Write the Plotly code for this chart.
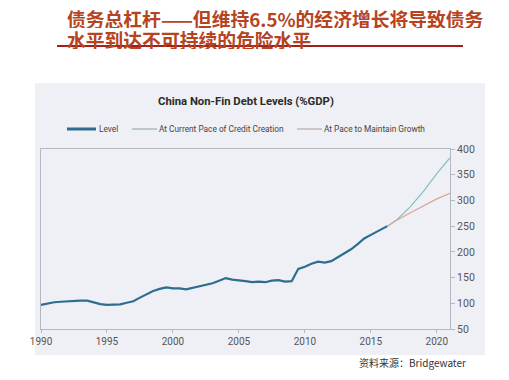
import plotly.graph_objects as go

# page body has an 8px margin; size the figure to fit inside the 509x380 window
PAGE_W, PAGE_H, BODY = 509, 380, 8
W, H = PAGE_W - 2 * BODY, PAGE_H - 2 * BODY

# ---- data ----
level_years = [1990.0, 1990.5, 1991.0, 1991.5, 1992.0, 1992.5, 1993.0, 1993.5, 1994.0, 1994.5,
               1995.0, 1995.5, 1996.0, 1996.5, 1997.0, 1997.5, 1998.0, 1998.5, 1999.0, 1999.5,
               2000.0, 2000.5, 2001.0, 2001.5, 2002.0, 2002.5, 2003.0, 2003.5, 2004.0, 2004.5,
               2005.0, 2005.5, 2006.0, 2006.5, 2007.0, 2007.5, 2008.0, 2008.5, 2009.0, 2009.25,
               2009.5, 2010.0, 2010.5, 2011.0, 2011.5, 2012.0, 2012.5, 2013.0, 2013.5, 2014.0,
               2014.5, 2015.0, 2015.5, 2016.0, 2016.25]
level_values = [97, 100, 102, 103, 104, 105, 105, 105, 102, 98.5,
                97, 97, 98, 101, 104, 111, 117, 124, 128, 131,
                129, 129, 127, 130, 132, 136, 139, 144, 149, 146,
                145, 143, 141, 142, 141, 144, 145, 142, 143, 155,
                167, 171, 177, 181, 179, 182, 190, 197, 205, 215,
                226, 233, 240, 246, 250]

proj_years = [2016.25, 2017, 2018, 2019, 2020, 2021]
credit_pace_values = [250, 263, 288, 318, 352, 383]
growth_pace_values = [250, 262, 276, 290, 303, 314]

series_names = ["Level", "At Current Pace of Credit Creation", "At Pace to Maintain Growth"]
series_colors = ["#2E6D8E", "#86BDC2", "#D9A697"]

x_ticks = [1990, 1995, 2000, 2005, 2010, 2015, 2020]
y_ticks = [50, 100, 150, 200, 250, 300, 350, 400]

title_line1 = "债务总杠杆——但维持6.5%的经济增长将导致债务"
title_line2 = "水平到达不可持续的危险水平"
chart_title = "China Non-Fin Debt Levels (%GDP)"
source_text = "资料来源：Bridgewater"


def px_x(p):
    return (p - BODY) / W


def px_y(p):
    return 1 - (p - BODY) / H


fig = go.Figure()
fig.add_trace(go.Scatter(x=level_years, y=level_values, mode="lines", name=series_names[0],
                         line=dict(color=series_colors[0], width=2.2), showlegend=False))
fig.add_trace(go.Scatter(x=proj_years, y=credit_pace_values, mode="lines", name=series_names[1],
                         line=dict(color=series_colors[1], width=1.2), showlegend=False))
fig.add_trace(go.Scatter(x=proj_years, y=growth_pace_values, mode="lines", name=series_names[2],
                         line=dict(color=series_colors[2], width=1.2), showlegend=False))

axis_color = "#B4B8C0"

shapes = [
    dict(type="rect", xref="paper", yref="paper", x0=px_x(35), x1=px_x(485),
         y0=px_y(355), y1=px_y(83), fillcolor="#EEF0F5", line=dict(width=0), layer="below"),
    dict(type="line", xref="paper", yref="paper", x0=px_x(57), x1=px_x(463),
         y0=px_y(46), y1=px_y(46), line=dict(color="#A3201A", width=2)),
]
title_font = dict(family="Noto Sans CJK SC", size=18.8, color="#B5441F", weight="bold")
annotations = [
    dict(text=title_line1, xref="paper", yref="paper", x=px_x(66), y=px_y(18),
         xanchor="left", yanchor="middle", showarrow=False, borderpad=0, height=20,
         valign="middle", font=title_font),
    dict(text=title_line2, xref="paper", yref="paper", x=px_x(66), y=px_y(39),
         xanchor="left", yanchor="middle", showarrow=False, borderpad=0, height=20,
         valign="middle", font=title_font),
    dict(text="<b>" + chart_title + "</b>", xref="paper", yref="paper", x=px_x(246), y=px_y(101),
         xanchor="center", yanchor="middle", showarrow=False,
         font=dict(family="Roboto", size=11.3, color="#2B2B2B")),
    dict(text=source_text, xref="paper", yref="paper", x=px_x(468), y=px_y(362),
         xanchor="right", yanchor="middle", showarrow=False,
         font=dict(family="Noto Sans CJK SC", size=10, color="#333333")),
]

# manual legend
legend_items = [(67, 96, 97, 3), (132, 157, 157, 1.2), (297, 322, 322, 1.2)]
legend_swatch_colors = ["#2E6D8E", "#9AAFB5", "#B9A8A6"]
for (lx0, lx1, tx, lw), name, col in zip(legend_items, series_names, legend_swatch_colors):
    shapes.append(dict(type="line", xref="paper", yref="paper", x0=px_x(lx0), x1=px_x(lx1),
                       y0=px_y(129), y1=px_y(129), line=dict(color=col, width=lw)))
    annotations.append(dict(text=name, xref="paper", yref="paper", x=px_x(tx), y=px_y(129),
                            xanchor="left", yanchor="middle", showarrow=False,
                            font=dict(family="Roboto", size=8.3, color="#444444")))

fig.update_layout(
    width=W, height=H,
    margin=dict(l=0, r=0, t=0, b=0, autoexpand=False),
    paper_bgcolor="white",
    plot_bgcolor="rgba(0,0,0,0)",
    xaxis=dict(domain=[px_x(41), px_x(450)], range=[1990, 2021], tickvals=x_ticks,
               automargin=False,
               showgrid=False, zeroline=False, showline=True, mirror=True,
               linecolor=axis_color, linewidth=1, ticks="outside", ticklen=3,
               tickcolor=axis_color, tickfont=dict(family="Roboto", size=10, color="#555555")),
    yaxis=dict(domain=[px_y(329), px_y(149)], range=[50, 400], tickvals=y_ticks,
               automargin=False,
               ticksuffix="%", side="right", showgrid=False, zeroline=False,
               showline=True, mirror=True, linecolor=axis_color, linewidth=1,
               ticks="outside", ticklen=4, tickcolor=axis_color,
               tickfont=dict(family="Roboto", size=10.5, color="#555555")),
    showlegend=False,
    shapes=shapes,
    annotations=annotations,
)

fig.write_html("out.html")
